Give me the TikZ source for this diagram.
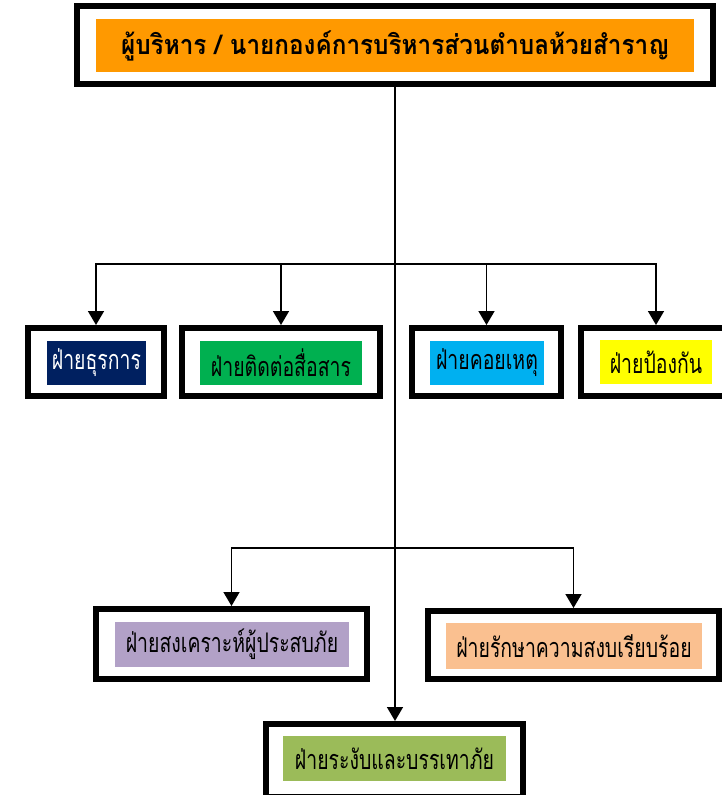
\documentclass[tikz,border=0pt]{standalone}
\usepackage{fontspec}
\newfontfamily\thaifont[Script=Thai,FakeStretch=0.72]{Loma}
\newfontfamily\thaitop[Script=Thai,FakeStretch=0.9]{Loma}
\usetikzlibrary{arrows.meta}
\definecolor{cnavy}{HTML}{002060}
\definecolor{cgreen}{HTML}{00B050}
\definecolor{ccyan}{HTML}{00B0F0}
\definecolor{cyell}{HTML}{FFFF00}
\definecolor{corange}{HTML}{FF9900}
\definecolor{cpurple}{HTML}{B2A1C7}
\definecolor{cpeach}{HTML}{FAC090}
\definecolor{colive}{HTML}{9BBB59}
\begin{document}
\begin{tikzpicture}[x=1pt,y=-1pt,
  frame/.style={draw=black,line width=6pt,fill=white,inner sep=0pt,minimum width=#1},
  label/.style={inner sep=0pt,minimum height=44pt,font=\thaifont\fontsize{27}{30}\selectfont},
  conn/.style={line width=1.6pt,-{Triangle[length=14pt,width=16pt]}}]
\useasboundingbox (0,0) rectangle (722,795);
\fill[white] (0,0) rectangle (722,795);
% top
\node[frame=636, minimum height=78pt] (ftop) at (395,45) {};
\node[fill=corange,inner sep=0pt,minimum width=598pt,minimum height=53pt,font=\thaitop\bfseries\fontsize{27}{30}\selectfont] (ttop) at (395,45.5) {ผู้บริหาร / นายกองค์การบริหารส่วนตำบลห้วยสำราญ};
% row 1
\node[frame=136, minimum height=68pt] (f1) at (96,362) {};
\node[label,fill=cnavy,text=white,minimum width=99pt] (t1) at (96.5,362.5) {ฝ่ายธุรการ};
\node[frame=198, minimum height=68pt] (f2) at (281,362) {};
\node[label,fill=cgreen,minimum width=162pt] (t2) at (281,362.5) {ฝ่ายติดต่อสื่อสาร};
\node[frame=149, minimum height=68pt] (f3) at (486.5,362) {};
\node[label,fill=ccyan,minimum width=114pt] (t3) at (487,362.5) {ฝ่ายคอยเหตุ};
\node[frame=150, minimum height=68pt] (f4) at (656,362) {};
\node[label,fill=cyell,minimum width=112pt] (t4) at (656,362) {ฝ่ายป้องกัน};
% row 2
\node[frame=271, minimum height=70pt] (f5) at (231.5,644) {};
\node[label,fill=cpurple,minimum width=234pt,minimum height=45pt] (t5) at (232,644.5) {ฝ่ายสงเคราะห์ผู้ประสบภัย};
\node[frame=291, minimum height=68pt] (f6) at (573.5,645) {};
\node[label,fill=cpeach,minimum width=256pt,minimum height=46pt] (t6) at (574,646) {ฝ่ายรักษาความสงบเรียบร้อย};
% bottom
\node[frame=257, minimum height=73pt] (f7) at (394.5,760.5) {};
\node[label,fill=colive,minimum width=223pt,minimum height=45pt] (t7) at (394.5,758.5) {ฝ่ายระงับและบรรเทาภัย};
% connectors
\coordinate (h1) at (ftop.south |- 0,264);
\coordinate (h2) at (ftop.south |- 0,548);
\draw[conn] (ftop.south) -- (f7.north -| ftop.south);
\draw[conn] (h1) -| (f1.north);
\draw[conn] (h1) -| (f2.north);
\draw[conn] (h1) -| (f3.north);
\draw[conn] (h1) -| (f4.north);
\draw[conn] (h2) -| (f5.north);
\draw[conn] (h2) -| (f6.north);
\end{tikzpicture}
\end{document}
